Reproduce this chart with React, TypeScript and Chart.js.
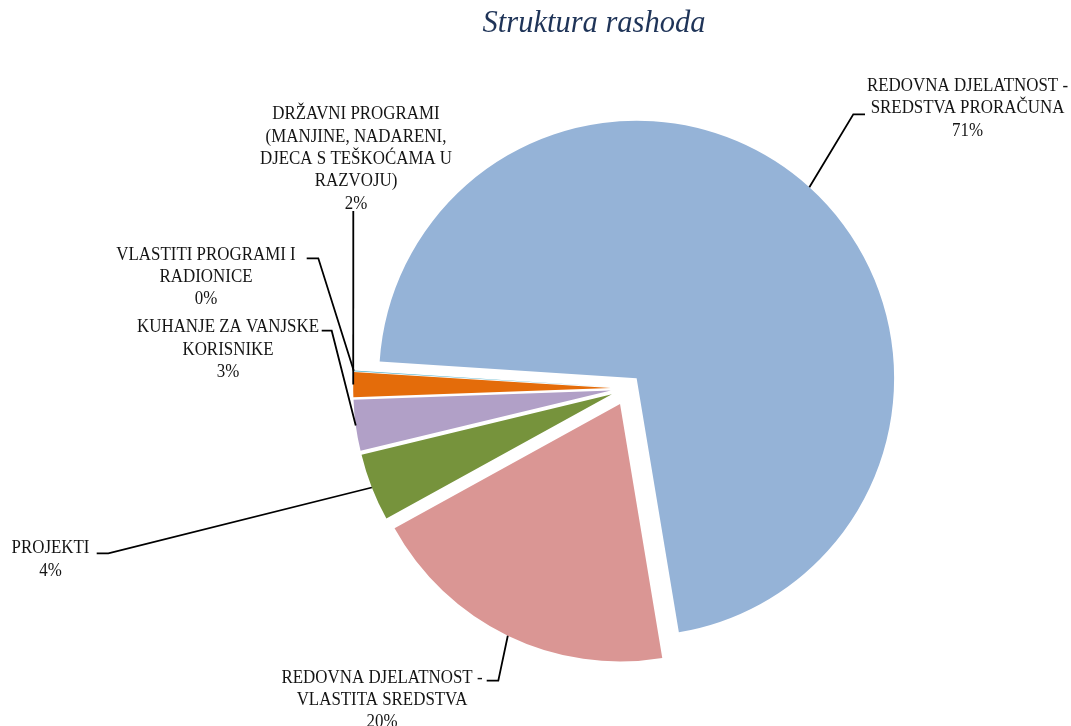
import { useEffect, useRef } from 'react';
import { Chart, registerables } from 'chart.js';

Chart.register(...registerables);

// ---- data ----
const TITLE = 'Struktura rashoda';
const CATEGORIES: string[][] = [
  ['REDOVNA DJELATNOST -', 'SREDSTVA PRORAČUNA'],
  ['REDOVNA DJELATNOST -', 'VLASTITA SREDSTVA'],
  ['PROJEKTI'],
  ['KUHANJE ZA VANJSKE', 'KORISNIKE'],
  ['DRŽAVNI PROGRAMI', '(MANJINE, NADARENI,', 'DJECA S TEŠKOĆAMA U', 'RAZVOJU)'],
  ['VLASTITI PROGRAMI I', 'RADIONICE'],
];
const SHARES: number[] = [71.35, 19.6, 4.25, 3.2, 1.55, 0.05];

// ---- styles / layout ----
const COLORS = ['#95B3D7', '#DA9694', '#76933C', '#B1A0C7', '#E46C0A', '#4BACC6'];
const EXPLODE = [13.3, 17.6, 17, 17, 17, 17];
const TITLE_COLOR = '#1F3458';
const LABEL_COLOR = '#141414';
const LABEL_FONT = '19px "Liberation Serif", "Times New Roman", serif';
const LABEL_SQUEEZE = 0.89;
const LABEL_POS: { cx: number; y: number; lh: number; leader: number[][] }[] = [
  { cx: 967.5, y: 91, lh: 22.4, leader: [[865, 114.3], [853.3, 114.3]] },
  { cx: 382, y: 682.5, lh: 22, leader: [[486.7, 680.7], [498.3, 680.7]] },
  { cx: 50.5, y: 553.3, lh: 22.2, leader: [[96.7, 553.3], [108.3, 553.3]] },
  { cx: 228, y: 332.3, lh: 22.3, leader: [[321.7, 330.7], [331.7, 330.7]] },
  { cx: 356, y: 119.3, lh: 22.3, leader: [[353.3, 211]] },
  { cx: 206, y: 259.5, lh: 22.3, leader: [[306.7, 258.3], [318.3, 258.3]] },
];

const explodePlugin = {
  id: 'explodeSlices',
  afterDatasetsUpdate(chart: any) {
    const meta = chart.getDatasetMeta(0);
    meta.data.forEach((arc: any, i: number) => {
      const mid = (arc.startAngle + arc.endAngle) / 2;
      const t = EXPLODE[i] || 0;
      arc.x += Math.cos(mid) * t;
      arc.y += Math.sin(mid) * t;
    });
  },
};

const labelPlugin = {
  id: 'pieLabels',
  afterDraw(chart: any) {
    const ctx: CanvasRenderingContext2D = chart.ctx;
    const meta = chart.getDatasetMeta(0);
    const data = chart.data.datasets[0].data as number[];
    const total = data.reduce((a, b) => a + b, 0);
    ctx.save();
    ctx.textAlign = 'center';
    ctx.textBaseline = 'alphabetic';
    ctx.font = 'italic 30.5px "Liberation Serif", "Times New Roman", serif';
    ctx.fillStyle = TITLE_COLOR;
    ctx.fillText(TITLE, 594, 32);

    ctx.font = LABEL_FONT;
    meta.data.forEach((arc: any, i: number) => {
      const pos = LABEL_POS[i];
      const lines = [...CATEGORIES[i], Math.round((data[i] / total) * 100) + '%'];
      ctx.fillStyle = LABEL_COLOR;
      lines.forEach((ln, k) => {
        const w = ctx.measureText(ln).width;
        ctx.fillText(ln, pos.cx, pos.y + k * pos.lh, w * LABEL_SQUEEZE);
      });
      const mid = (arc.startAngle + arc.endAngle) / 2;
      const r = arc.outerRadius;
      const ex = arc.x + Math.cos(mid) * r;
      const ey = arc.y + Math.sin(mid) * r;
      ctx.beginPath();
      ctx.strokeStyle = '#000000';
      ctx.lineWidth = 1.8;
      ctx.lineJoin = 'miter';
      pos.leader.forEach((p, k) => {
        if (k === 0) ctx.moveTo(p[0], p[1]);
        else ctx.lineTo(p[0], p[1]);
      });
      ctx.lineTo(ex, ey);
      ctx.stroke();
    });
    ctx.restore();
  },
};

export default function App() {
  const ref = useRef<HTMLCanvasElement>(null);
  useEffect(() => {
    if (!ref.current) return;
    const chart = new Chart(ref.current, {
      type: 'pie',
      data: {
        labels: CATEGORIES,
        datasets: [
          {
            data: SHARES,
            backgroundColor: COLORS,
            borderWidth: 0,
            rotation: 273.7,
            radius: 257.5,
          } as any,
        ],
      },
      options: {
        responsive: false,
        devicePixelRatio: 1,
        animation: false,
        rotation: 273.7,
        radius: 257.5,
        layout: { padding: { left: 184.4, right: 0, top: 50.2, bottom: 0 } },
        plugins: {
          legend: { display: false },
          title: { display: false },
          tooltip: { enabled: false },
        },
        events: [],
      } as any,
      plugins: [explodePlugin, labelPlugin],
    });
    return () => chart.destroy();
  }, []);
  return (
    <div style={{ position: 'absolute', left: 0, top: 0, width: 1071, height: 726, background: '#fff' }}>
      <canvas ref={ref} width={1071} height={726} style={{ display: 'block', width: 1071, height: 726 }} />
    </div>
  );
}
